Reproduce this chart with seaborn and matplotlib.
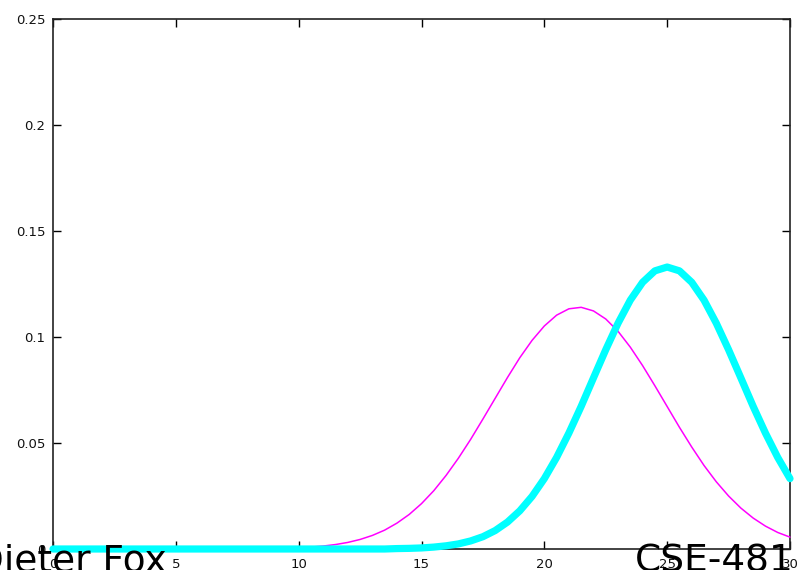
import numpy as np
import pandas as pd
import matplotlib
matplotlib.use("Agg")
import matplotlib.pyplot as plt
import seaborn as sns

# x positions (0 .. 30, step 0.5)
x_vals = [i * 0.5 for i in range(61)]

# thin magenta curve
magenta_vals = [0.0] * 18 + [
    0.0003, 0.0004,                    # 9.0, 9.5
    0.0006, 0.0009, 0.0014, 0.0021,    # 10 .. 11.5
    0.0031, 0.0045, 0.0064, 0.0089,    # 12 .. 13.5
    0.0122, 0.0163, 0.0214, 0.0275,    # 14 .. 15.5
    0.0347, 0.0428, 0.0517, 0.0613,    # 16 .. 17.5
    0.0711, 0.0809, 0.0902, 0.0984,    # 18 .. 19.5
    0.1052, 0.1103, 0.1133, 0.1140,    # 20 .. 21.5
    0.1123, 0.1085, 0.1027, 0.0952,    # 22 .. 23.5
    0.0865, 0.0770, 0.0672, 0.0574,    # 24 .. 25.5
    0.0481, 0.0394, 0.0317, 0.0250,    # 26 .. 27.5
    0.0193, 0.0146, 0.0108, 0.0078,    # 28 .. 29.5
    0.0056,                            # 30
]

# thick cyan curve
cyan_vals = [0.0] * 28 + [
    0.0002, 0.0003,                    # 14, 14.5
    0.0005, 0.0009, 0.0015, 0.0024,    # 15 .. 16.5
    0.0038, 0.0058, 0.0087, 0.0127,    # 17 .. 18.5
    0.0180, 0.0248, 0.0332, 0.0432,    # 19 .. 20.5
    0.0547, 0.0673, 0.0807, 0.0940,    # 21 .. 22.5
    0.1065, 0.1174, 0.1258, 0.1312,    # 23 .. 24.5
    0.1330, 0.1312, 0.1258, 0.1174,    # 25 .. 26.5
    0.1065, 0.0940, 0.0807, 0.0673,    # 27 .. 28.5
    0.0547, 0.0432, 0.0332,            # 29 .. 30
]

x_ticks = [0, 5, 10, 15, 20, 25, 30]
x_ticklabels = ["0", "5", "10", "15", "20", "25", "30"]
y_ticks = [0, 0.05, 0.1, 0.15, 0.2, 0.25]
y_ticklabels = ["0", "0.05", "0.1", "0.15", "0.2", "0.25"]

df_m = pd.DataFrame({"x": x_vals, "y": magenta_vals})
df_c = pd.DataFrame({"x": x_vals, "y": cyan_vals})

sns.set_style("white")
plt.rcParams["font.family"] = ["DejaVu Sans"]

fig = plt.figure(figsize=(7.99, 5.70), dpi=100)
ax = fig.add_axes([53 / 799, 1 - 549 / 570, (790 - 53) / 799, (549 - 19) / 570])

sns.lineplot(data=df_m, x="x", y="y", ax=ax, color="#ff00ff", linewidth=1.1,
             clip_on=False, zorder=3)
sns.lineplot(data=df_c, x="x", y="y", ax=ax, color="#00ffff", linewidth=5.2,
             clip_on=False, zorder=4)

ax.set_xlim(0, 30)
ax.set_ylim(0, 0.25)
ax.set_xlabel("")
ax.set_ylabel("")
ax.set_xticks(x_ticks)
ax.set_xticklabels(x_ticklabels)
ax.set_yticks(y_ticks)
ax.set_yticklabels(y_ticklabels)
ax.tick_params(direction="in", length=6, width=1.0, color="black",
               top=True, right=True, bottom=True, left=True,
               labelsize=9.5, labelcolor="#111111")
ax.tick_params(axis="x", pad=6.5)
ax.tick_params(axis="y", pad=5.5)
for lab in ax.get_xticklabels() + ax.get_yticklabels():
    lab.set_family("DejaVu Sans")
for sp in ax.spines.values():
    sp.set_visible(True)
    sp.set_color("#222222")
    sp.set_linewidth(1.2)
    sp.set_zorder(2)

fig.text(-25 / 799, -2 / 570, "Dieter Fox", fontsize=27, color="black",
         ha="left", va="baseline", family="DejaVu Sans")
fig.text(635 / 799, -2 / 570, "CSE-481", fontsize=27, color="black",
         ha="left", va="baseline", family="DejaVu Sans")

fig.savefig("out.png", dpi=100)
